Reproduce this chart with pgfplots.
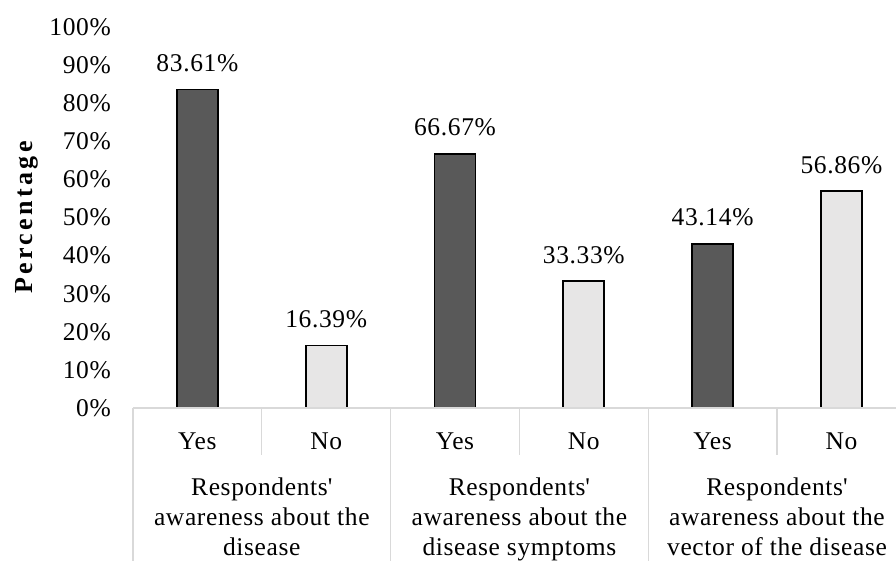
\documentclass[border=0pt]{standalone}
\usepackage{pgfplots}
\pgfplotsset{compat=1.18}
\usepackage{fontspec}
\setmainfont{Liberation Serif}[LetterSpace=2.5]
\newfontfamily\titlefont{Liberation Serif}[LetterSpace=13]

\definecolor{yesfill}{HTML}{595959}
\definecolor{nofill}{HTML}{E7E6E6}
\definecolor{rulegrey}{HTML}{D9D9D9}

\newcommand{\lblfont}{\fontsize{25.5}{30}\selectfont}

\begin{document}
\begin{tikzpicture}
\begin{axis}[
    scale only axis,
    width=772.8pt, height=381pt,
    xmin=-0.5, xmax=5.5,
    ymin=0, ymax=100,
    clip=false,
    axis line style={draw=none},
    major tick length=0pt,
    /pgf/number format/assume math mode=true,
    ytick={0,10,...,100},
    yticklabel={\pgfmathprintnumber{\tick}\%},
    yticklabel style={font=\lblfont, anchor=east, inner sep=0pt, xshift=-22pt},
    xtick={0,1,2,3,4,5},
    xticklabels={Yes,No,Yes,No,Yes,No},
    xticklabel style={font=\lblfont, anchor=center, inner sep=0pt, yshift=-33pt},
    ylabel={Percentage},
    ylabel style={font=\titlefont\bfseries\fontsize{26}{30}\selectfont, at={([xshift=-106pt]axis description cs:0,0.5)}, anchor=center, rotate=0},
    ybar, bar width=41pt, bar shift=0pt,
    nodes near coords={\pgfmathprintnumber[fixed,precision=2,fixed zerofill]{\pgfplotspointmeta}\%},
    nodes near coords style={font=\lblfont, anchor=base, inner sep=0pt, yshift=18pt},
]
% answers "Yes"
\addplot[draw=black, line width=1.8pt, fill=yesfill]
    coordinates {(0,83.61) (2,66.67) (4,43.14)};
% answers "No"
\addplot[draw=black, line width=1.8pt, fill=nofill]
    coordinates {(1,16.39) (3,33.33) (5,56.86)};

% baseline and category dividers
\draw[rulegrey, line width=1.3pt] (axis cs:-0.5,0) -- (axis cs:5.5,0);
\pgfplotsinvokeforeach{-0.5,1.5,3.5,5.5}{
    \draw[rulegrey, line width=1.3pt] (axis cs:#1,0) -- ++(0pt,-160pt);
}
\pgfplotsinvokeforeach{0.5,2.5,4.5}{
    \draw[rulegrey, line width=1.3pt] (axis cs:#1,0) -- ++(0pt,-47pt);
}

% group labels
\node[font=\lblfont, align=center, anchor=north, inner sep=0pt]
    at ([yshift=-70pt]axis cs:0.5,0) {Respondents\textquotesingle\\awareness about the\\disease};
\node[font=\lblfont, align=center, anchor=north, inner sep=0pt]
    at ([yshift=-70pt]axis cs:2.5,0) {Respondents\textquotesingle\\awareness about the\\disease symptoms};
\node[font=\lblfont, align=center, anchor=north, inner sep=0pt]
    at ([yshift=-70pt]axis cs:4.5,0) {Respondents\textquotesingle\\awareness about the\\vector of the disease};

\coordinate (O) at (axis cs:-0.5,0);
\end{axis}
\pgfresetboundingbox
\path[use as bounding box] ([shift={(-133pt,-152pt)}]O) rectangle ([shift={(763pt,408pt)}]O);
\end{tikzpicture}
\end{document}
